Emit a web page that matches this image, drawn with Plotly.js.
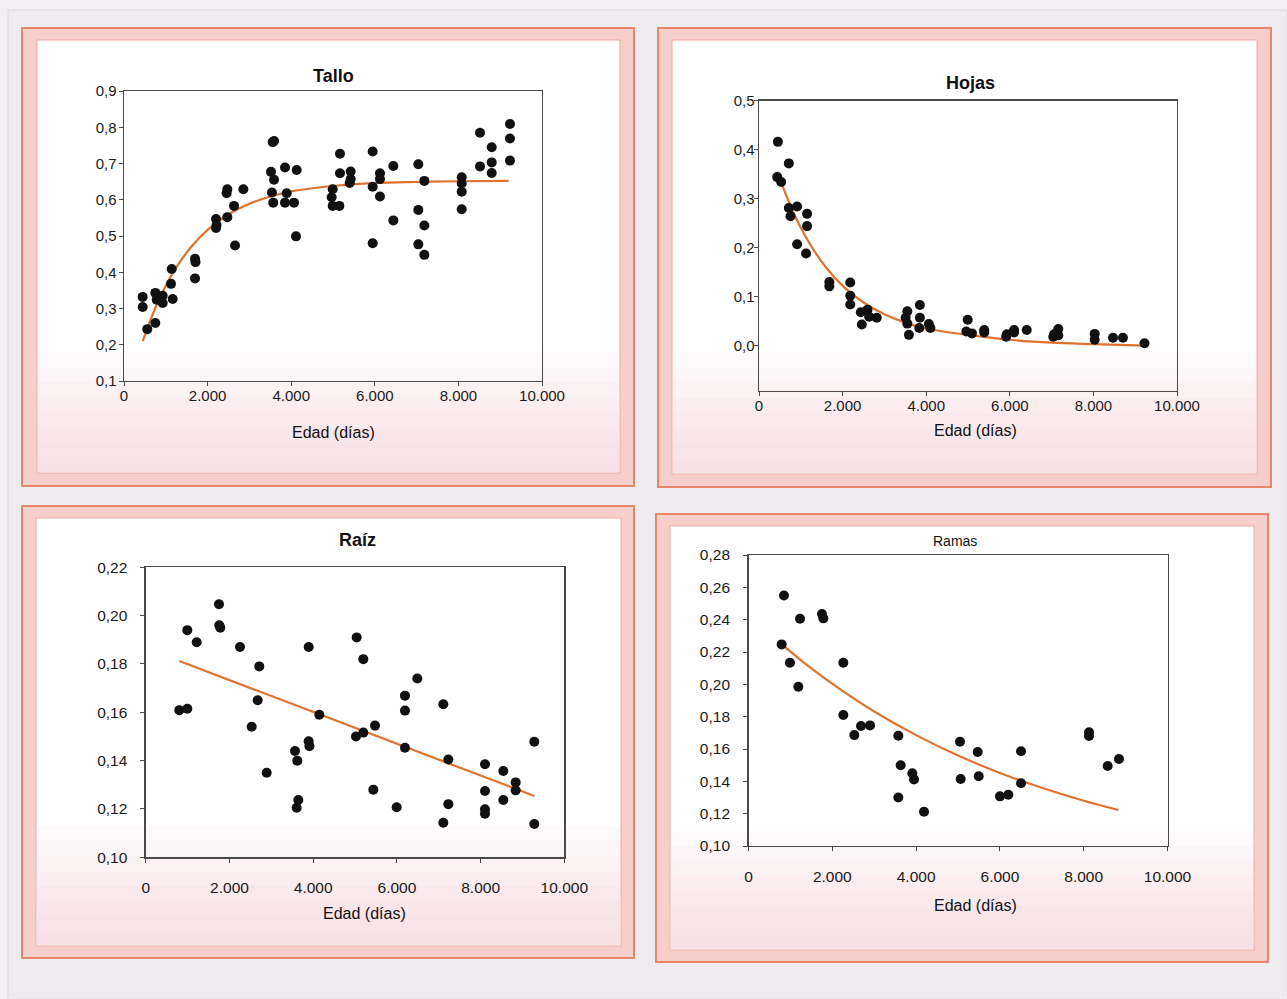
<!DOCTYPE html>
<html><head><meta charset="utf-8">
<script src="https://cdn.plot.ly/plotly-3.0.1.min.js"></script>
<style>html,body{margin:0;padding:0;background:#f1eff3}#chart{width:1287px;height:999px}</style>
</head><body><div id="chart"></div>
<script>
// ---------------- DATA ----------------
const talloX = [447,447,557,749,749,782,925,925,1141,1124,1165,1699,1710,1699,2201,2201,2215,2472,2455,2472,2632,2656,2855,3557,3590,3517,3589,3540,3570,3852,3892,3852,4067,4131,4115,4993,4968,4993,5152,5167,5167,5423,5423,5400,5949,5949,5949,6124,6124,6124,6443,6443,7041,7185,7041,7185,7041,7185,8079,8079,8079,8079,8517,8517,8797,8797,8797,9234,9234,9234];
const talloY = [0.332,0.304,0.243,0.343,0.260,0.324,0.335,0.315,0.409,0.368,0.326,0.437,0.428,0.383,0.547,0.522,0.530,0.629,0.618,0.552,0.583,0.474,0.629,0.759,0.762,0.677,0.655,0.620,0.592,0.689,0.618,0.592,0.592,0.682,0.499,0.629,0.607,0.583,0.583,0.727,0.673,0.678,0.657,0.646,0.733,0.636,0.480,0.673,0.657,0.609,0.693,0.543,0.698,0.652,0.572,0.529,0.477,0.448,0.662,0.645,0.622,0.574,0.785,0.692,0.745,0.703,0.674,0.809,0.769,0.708];
const talloCurveX = [450,800,1200,1600,2000,2500,3000,3500,4000,5000,6000,7000,8000,9200];
const talloCurveY = [0.210,0.315,0.404,0.469,0.517,0.560,0.589,0.609,0.623,0.638,0.646,0.649,0.651,0.652];

const hojasX = [452,436,531,714,714,754,912,912,1150,1150,1126,1683,1683,2183,2183,2183,2436,2460,2595,2635,2817,3508,3548,3548,3587,3849,3849,3835,4063,4100,4993,4960,5095,5388,5388,5912,5930,6102,6102,6405,7040,7060,7160,7160,8031,8031,8469,8707,9222];
const hojasY = [0.416,0.344,0.334,0.372,0.281,0.264,0.284,0.207,0.269,0.244,0.188,0.130,0.121,0.129,0.102,0.084,0.068,0.043,0.073,0.059,0.057,0.057,0.070,0.045,0.022,0.083,0.057,0.036,0.044,0.036,0.053,0.029,0.025,0.032,0.027,0.018,0.023,0.032,0.027,0.032,0.018,0.023,0.034,0.021,0.024,0.012,0.016,0.016,0.005];
const hojasCurveX = [436,800,1200,1600,2000,2500,3000,3500,4000,5000,6000,7000,8000,9222];
const hojasCurveY = [0.355,0.276,0.210,0.160,0.122,0.088,0.064,0.047,0.035,0.022,0.012,0.006,0.003,0.000];

const raizX = [801,992,992,1216,1749,1756,1780,2251,2712,2674,2530,2889,3565,3620,3644,3605,3892,3892,3910,4146,5039,5198,5022,5198,5477,5437,5994,6193,6193,6193,6488,7109,7229,7229,7109,8105,8105,8105,8105,8543,8543,8838,8838,9283,9283];
const raizY = [0.1609,0.1615,0.194,0.189,0.2047,0.196,0.195,0.187,0.179,0.165,0.154,0.135,0.144,0.140,0.1237,0.1205,0.187,0.148,0.146,0.159,0.191,0.182,0.150,0.1516,0.1545,0.128,0.1207,0.1669,0.1607,0.1453,0.174,0.1633,0.1405,0.122,0.1143,0.1385,0.1274,0.1199,0.118,0.1357,0.1237,0.131,0.1277,0.1478,0.1138];
const raizLineX = [801,9283];
const raizLineY = [0.1812,0.1254];

const ramasX = [847,792,990,1229,1189,1754,1786,2263,2263,2526,2685,2900,3576,3632,3576,3910,3950,4189,5048,5064,5470,5494,6002,6201,6504,6504,8127,8127,8573,8842];
const ramasY = [0.255,0.2247,0.2134,0.2406,0.1985,0.2435,0.2408,0.2134,0.181,0.1686,0.1742,0.1746,0.1682,0.150,0.130,0.145,0.1412,0.1212,0.1645,0.1414,0.1581,0.1431,0.1307,0.1317,0.1586,0.1388,0.1703,0.168,0.1495,0.1538];
const ramasCurveX = [792,1500,2200,3000,4000,5000,6000,7000,8000,8826];
const ramasCurveY = [0.2247,0.2098,0.1967,0.1832,0.1686,0.1560,0.1452,0.1360,0.1280,0.1223];

const titles = ['Tallo','Hojas','Raíz','Ramas'];
const xTitle = 'Edad (días)';

// ---------------- LAYOUT HELPERS ----------------
const W = 1287, H = 999;
const fx = v => v / W;
const fy = v => 1 - v / H;

// plot boxes in pixels: [left, right, top, bottom]
const boxes = [
  [124, 542, 91, 381],
  [759, 1177, 100.7, 390.7],
  [145.8, 564.3, 567.3, 857.3],
  [748.5, 1167.5, 555, 846]
];
// frames: outer [x0,y0,x1,y1], inner
const frames = [
  {o:[22,28,634,486], i:[37,40,620,473]},
  {o:[658,28,1271,487], i:[672,40,1257,474]},
  {o:[22,506,634,958], i:[36,518,621,946]},
  {o:[656,514,1268,962], i:[670,526,1254,950]}
];

const ORANGE = '#e0722e';
const AX = '#4a4a4a';
const FONT = 'Liberation Sans, Arial, Helvetica, sans-serif';

function mk(x, y, i){
  const s = i === 0 ? '' : String(i+1);
  return {x:x, y:y, xaxis:'x'+s, yaxis:'y'+s, type:'scatter', mode:'markers',
    marker:{color:'#111', size:10}, hoverinfo:'x+y', showlegend:false};
}
function ln(x, y, i, shape){
  const s = i === 0 ? '' : String(i+1);
  return {x:x, y:y, xaxis:'x'+s, yaxis:'y'+s, type:'scatter', mode:'lines',
    line:{color:ORANGE, width:2.2, shape:shape}, hoverinfo:'skip', showlegend:false};
}

const data = [
  ln(talloCurveX, talloCurveY, 0, 'spline'), mk(talloX, talloY, 0),
  ln(hojasCurveX, hojasCurveY, 1, 'spline'), mk(hojasX, hojasY, 1),
  ln(raizLineX, raizLineY, 2, 'linear'), mk(raizX, raizY, 2),
  ln(ramasCurveX, ramasCurveY, 3, 'spline'), mk(ramasX, ramasY, 3)
];

const layout = {
  width: W, height: H,
  margin:{l:0,r:0,t:0,b:0},
  paper_bgcolor:'#f1eff3',
  plot_bgcolor:'rgba(0,0,0,0)',
  separators:',.',
  font:{family:FONT, color:'#1a1a1a', size:15},
  showlegend:false,
  shapes:[], annotations:[]
};

const yRanges = [[0.1,0.9],[-0.092,0.5],[0.10,0.22],[0.10,0.28]];
const yTick = [
  {tick0:0.1, dtick:0.1, tickformat:'.1f'},
  {tickvals:[0,0.1,0.2,0.3,0.4,0.5], tickformat:'.1f'},
  {tick0:0.10, dtick:0.02, tickformat:'.2f'},
  {tick0:0.10, dtick:0.02, tickformat:'.2f'}
];
const xStandoff = [-3, -3, 12, 12];
const yStandoff = [-1, -4, 10, 10];

boxes.forEach((b, i) => {
  const s = i === 0 ? '' : String(i+1);
  const bottomRow = i >= 2;
  layout['xaxis'+s] = {
    domain:[fx(b[0]), fx(b[1])], anchor:'y'+s, range:[0,10000],
    tick0:0, dtick:2000, tickformat:',d',
    showline:true, mirror:true, linecolor:AX, linewidth:1.4,
    ticks:'outside', ticklen:4, tickcolor:AX, showgrid:false, zeroline:false,
    tickfont:{size: bottomRow ? 15.5 : 15, color:'#1a1a1a'},
    ticklabelstandoff: xStandoff[i],
    fixedrange:true
  };
  layout['yaxis'+s] = Object.assign({
    domain:[fy(b[3]), fy(b[2])], anchor:'x'+s, range:yRanges[i],
    showline:true, mirror:true, linecolor:AX, linewidth:1.4,
    ticks:'outside', ticklen:4, tickcolor:AX, showgrid:false, zeroline:false,
    tickfont:{size: bottomRow ? 15.5 : 15, color:'#1a1a1a'},
    ticklabelstandoff: yStandoff[i],
    fixedrange:true
  }, yTick[i]);
});

// page outer border
layout.shapes.push({type:'rect', xref:'paper', yref:'paper', x0:fx(8), x1:fx(1287), y0:fy(999), y1:fy(10),
  line:{color:'#dcd8e2', width:1}, fillcolor:'#eeecf1', layer:'below'});

frames.forEach(f => {
  layout.shapes.push({type:'rect', xref:'paper', yref:'paper',
    x0:fx(f.o[0]), x1:fx(f.o[2]), y0:fy(f.o[3]), y1:fy(f.o[1]),
    line:{color:'#e8876a', width:2}, fillcolor:'#f6cfcd', layer:'below'});
  layout.shapes.push({type:'rect', xref:'paper', yref:'paper',
    x0:fx(f.i[0]), x1:fx(f.i[2]), y0:fy(f.i[3]), y1:fy(f.i[1]),
    line:{color:'#efaaa0', width:1}, fillcolor:'#ffffff', layer:'below'});
  // soft pink fade toward the bottom of each panel
  const hh = f.i[3] - f.i[1];
  const n = 8;
  for (let k = 0; k < n; k++){
    const top = f.i[1] + hh*(0.72 + 0.28*k/n);
    layout.shapes.push({type:'rect', xref:'paper', yref:'paper',
      x0:fx(f.i[0]+1), x1:fx(f.i[2]-1), y0:fy(f.i[3]-1), y1:fy(top),
      line:{width:0}, fillcolor:'rgba(244,205,214,0.10)', layer:'below'});
  }
});

// titles
const titlePos = [[333,76,true,18],[970,83,true,18],[357,540,true,18],[955,541,false,14]];
titlePos.forEach((t, i) => {
  layout.annotations.push({xref:'paper', yref:'paper', x:fx(t[0]), y:fy(t[1]),
    xanchor:'center', yanchor:'middle', showarrow:false,
    text: t[2] ? '<b>'+titles[i]+'</b>' : titles[i],
    font:{family:FONT, size:t[3], color:'#111'}});
});
const xtPos = [[333,432],[975,430],[364,913],[975,905]];
xtPos.forEach(p => {
  layout.annotations.push({xref:'paper', yref:'paper', x:fx(p[0]), y:fy(p[1]),
    xanchor:'center', yanchor:'middle', showarrow:false,
    text:xTitle, font:{family:FONT, size:16, color:'#111'}});
});

Plotly.newPlot('chart', data, layout, {displayModeBar:false, staticPlot:true});
</script>
</body></html>
